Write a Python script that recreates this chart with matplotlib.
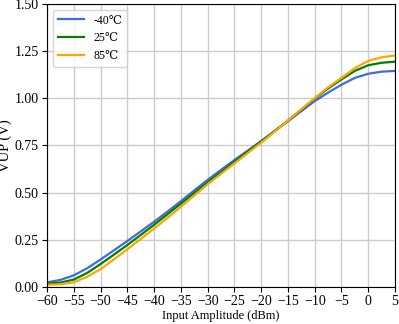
import numpy as np
import matplotlib.pyplot as plt

plt.rcParams["font.family"] = ["Liberation Serif", "DejaVu Serif"]

input_dbm = np.arange(-60, 5.1, 2.5)

vup_m40 = [0.025, 0.038, 0.062, 0.100, 0.146, 0.195, 0.244, 0.295, 0.346, 0.400,
           0.455, 0.512, 0.568, 0.621, 0.673, 0.723, 0.774, 0.826, 0.878, 0.932,
           0.985, 1.030, 1.072, 1.108, 1.130, 1.141, 1.145]
vup_25 = [0.018, 0.024, 0.040, 0.075, 0.122, 0.172, 0.223, 0.276, 0.330, 0.386,
          0.442, 0.499, 0.555, 0.609, 0.664, 0.717, 0.771, 0.826, 0.882, 0.940,
          0.998, 1.052, 1.100, 1.145, 1.175, 1.188, 1.194]
vup_85 = [0.012, 0.015, 0.025, 0.055, 0.095, 0.147, 0.200, 0.255, 0.310, 0.367,
          0.425, 0.485, 0.545, 0.600, 0.655, 0.710, 0.765, 0.823, 0.882, 0.942,
          1.001, 1.058, 1.108, 1.160, 1.198, 1.217, 1.227]

labels = ["-40\u2103", "25\u2103", "85\u2103"]
colors = ["royalblue", "green", "orange"]

fig = plt.figure(figsize=(3.99, 3.24), dpi=100)
ax = fig.add_axes([0.118, 0.114, 0.872, 0.874])

for ys, lab, c in zip([vup_m40, vup_25, vup_85], labels, colors):
    ax.plot(input_dbm, ys, color=c, lw=1.6, label=lab)

ax.set_xlim(-60, 5)
ax.set_ylim(0, 1.5)
ax.set_xticks(np.arange(-60, 6, 5))
ax.set_yticks(np.arange(0, 1.51, 0.25))
ax.grid(True, color="#cccccc", lw=1)
ax.set_axisbelow(True)
ax.tick_params(labelsize=10, pad=2.5)
ax.set_xlabel("Input Amplitude (dBm)", fontsize=9, labelpad=1)
ax.set_ylabel("VUP (V)", fontsize=10.5)
ax.yaxis.set_label_coords(-0.1, 0.5)
ax.legend(loc="upper left", fontsize=8.5, handlelength=2.2)

fig.savefig("out.png", dpi=100)
